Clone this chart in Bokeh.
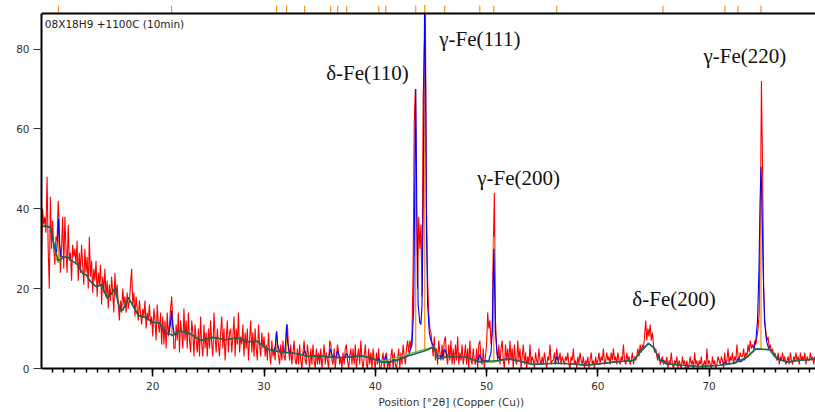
from bokeh.plotting import figure
from bokeh.models import Range1d, LinearAxis, FixedTicker, ColumnDataSource, Title
from bokeh.core.properties import value
from bokeh.embed import file_html
from bokeh.resources import INLINE

# ---------------- data ----------------
scan_start = 10.0
scan_step = 0.1
# observed counts, one row per degree 2theta (10.0 ... 79.5)
observed = [
    28, 40, 36, 38, 34, 48, 30, 20, 43, 30,
    37, 30, 26, 33, 32, 42, 36, 24, 30, 38,
    25, 38, 30, 24, 36, 27, 29, 22, 31, 28,
    30, 26, 32, 22, 29, 24, 31, 26, 21, 30,
    24, 28, 20, 33, 23, 27, 19, 25, 22, 27,
    18, 24, 21, 26, 16, 23, 19, 25, 18, 22,
    15, 21, 17, 23, 19, 14, 24, 18, 21, 16,
    12, 17, 14, 20, 16, 18, 14, 19, 15, 17,
    21, 25, 16, 19, 13, 18, 15, 12, 17, 14,
    11, 15, 13, 17, 10, 14, 12, 16, 11, 13,
    8, 15, 12, 7, 16, 11, 9, 14, 6, 13,
    6, 12, 5, 14, 8, 11, 15, 18, 12, 5,
    5, 11, 7, 14, 4, 12, 9, 5, 15, 7,
    12, 5, 14, 7, 4, 12, 9, 3, 11, 7,
    4, 10, 3, 13, 6, 3, 11, 5, 9, 3,
    10, 5, 12, 6, 3, 14, 8, 4, 10, 6,
    3, 9, 13, 5, 10, 2, 7, 12, 4, 9,
    10, 4, 8, 13, 3, 10, 6, 14, 4, 8,
    6, 11, 3, 9, 5, 10, 2, 7, 12, 4,
    9, 3, 10, 5, 2, 11, 6, 3, 9, 5,
    8, 3, 6, 2, 9, 4, 1, 7, 3, 5,
    2, 9, 6, 3, 1, 6, 2, 7, 3, 2,
    8, 11, 5, 2, 6, 1, 4, 7, 2, 1,
    5, 1, 6, 2, 0, 4, 7, 2, 1, 6,
    3, 0, 5, 1, 6, 2, 0, 5, 1, 4,
    1, 5, 0, 3, 6, 1, 4, 2, 0, 7,
    6, 2, 1, 5, 0, 3, 6, 4, 1, 3,
    0, 4, 1, 5, 6, 2, 0, 3, 5, 1,
    5, 1, 6, 0, 3, 5, 1, 7, 2, 0,
    3, 6, 1, 0, 5, 1, 4, 0, 5, 2,
    0, 4, 1, 5, 0, 0, 2, 4, 0, 3,
    4, 0, 2, 0, 3, 5, 0, 4, 1, 0,
    2, 5, 0, 4, 1, 6, 3, 1, 5, 7,
    4, 7, 5, 9, 25, 62, 70, 40, 20, 38,
    30, 36, 18, 68, 80, 88.5, 40, 22, 14, 10,
    9, 6, 3, 8, 2, 5, 1, 7, 4, 2,
    6, 2, 7, 8, 3, 1, 6, 2, 7, 1,
    5, 1, 6, 2, 8, 1, 4, 2, 6, 1,
    3, 6, 1, 5, 0, 7, 2, 1, 5, 2,
    1, 5, 0, 6, 7, 2, 1, 5, 0, 3,
    6, 14, 10, 12, 6, 9, 30, 44, 12, 5,
    2, 6, 1, 5, 7, 2, 0, 6, 2, 5,
    1, 7, 2, 5, 0, 6, 2, 1, 7, 2,
    5, 0, 3, 6, 1, 4, 0, 3, 1, 6,
    1, 3, 2, 0, 4, 2, 1, 5, 2, 1,
    3, 1, 4, 2, 0, 3, 2, 6, 1, 2,
    2, 4, 1, 5, 3, 2, 4, 1, 3, 2,
    1, 3, 2, 4, 1, 0, 3, 2, 5, 1,
    2, 0, 3, 1, 4, 2, 1, 3, 0, 2,
    1, 3, 0, 2, 4, 1, 2, 0, 3, 1,
    2, 4, 1, 3, 2, 5, 1, 2, 4, 2,
    3, 1, 4, 2, 5, 2, 3, 1, 4, 2,
    1, 3, 2, 6, 2, 1, 4, 2, 3, 1,
    2, 4, 1, 3, 2, 3, 5, 3, 6, 4,
    6, 5, 8, 12, 7, 10, 8, 11, 7, 9,
    6, 4, 5, 3, 2, 4, 1, 2, 3, 1,
    2, 1, 3, 0, 2, 1, 4, 1, 0, 2,
    1, 3, 0, 2, 1, 0, 3, 1, 2, 0,
    2, 0, 1, 3, 1, 2, 0, 4, 1, 2,
    0, 2, 1, 3, 0, 1, 2, 0, 5, 1,
    2, 1, 0, 3, 1, 2, 0, 1, 3, 2,
    1, 3, 2, 0, 4, 1, 2, 5, 1, 3,
    2, 4, 1, 3, 2, 6, 3, 2, 4, 3,
    3, 5, 2, 4, 3, 6, 4, 7, 5, 6,
    5, 7, 6, 8, 10, 14, 35, 72, 51, 20,
    12, 9, 7, 8, 5, 6, 4, 5, 3, 4,
    3, 2, 4, 1, 3, 2, 4, 2, 3, 1,
    2, 3, 1, 4, 2, 1, 3, 2, 4, 2,
    3, 1, 4, 2, 3, 2, 4, 1, 3, 2,
    2, 4, 2, 3, 1, 3,
]

# calculated profile (blue)
calc_x = [10.0, 10.5, 10.8, 11.2, 11.35, 11.45, 11.53, 11.62, 11.75, 12.0, 12.3, 12.7,
          13.2, 13.7, 14.0, 14.4, 14.9, 15.4, 15.9, 16.3, 16.6, 17.05, 17.3, 17.8, 18.2,
          18.7, 19.3, 20.0, 20.6, 21.2, 21.45, 21.58, 21.69, 21.8, 21.95, 22.4, 23.3, 24.3,
          25.4, 26.6, 27.6, 28.5, 29.4, 30.3, 30.9, 31.03, 31.13, 31.23, 31.4, 31.85, 31.94,
          32.03, 32.12, 32.3, 33.0, 33.5, 33.65, 33.8, 33.9, 35.0, 35.8, 35.99, 36.15, 36.45,
          36.62, 36.8, 37.25, 37.43, 37.6, 38.7, 39.6, 40.15, 40.31, 40.5, 40.8, 40.94, 41.1,
          42.3, 43.0, 43.3, 43.45, 43.53, 43.63, 43.73, 43.85, 44.0, 44.1, 44.2, 44.3, 44.37,
          44.44, 44.52, 44.6, 44.7, 44.85, 45.0, 45.3, 45.6, 46.0, 46.24, 46.5, 47.2, 48.2,
          49.2, 49.39, 49.6, 50.2, 50.4, 50.52, 50.58, 50.65, 50.72, 50.8, 50.95, 51.2, 52.1,
          53.0, 54.2, 55.2, 56.1, 56.31, 56.5, 57.5, 59.0, 60.2, 61.4, 62.3, 63.2, 63.8, 64.55,
          65.0, 65.6, 65.85, 66.2, 67.5, 69.2, 71.0, 71.25, 71.42, 71.6, 72.4, 72.59, 72.8,
          73.4, 74.0, 74.2, 74.35, 74.48, 74.58, 74.66, 74.74, 74.85, 74.98, 75.15, 75.35,
          75.6, 76.1, 77.0, 78.0, 78.8, 79.6]
calc_y = [35.6, 35.6, 35.3, 30.0, 29.0, 33.0, 37.5, 31.0, 28.2, 27.8, 28.0, 27.0,
          26.2, 23.8, 23.5, 21.8, 20.5, 21.0, 17.6, 18.7, 20.2, 14.5, 14.6, 17.8, 15.8,
          13.3, 12.8, 11.6, 11.4, 8.8, 8.8, 11.0, 14.5, 10.5, 8.4, 9.4, 8.8, 7.0,
          7.8, 7.2, 7.7, 6.7, 6.8, 4.9, 4.4, 6.0, 9.3, 6.0, 4.2, 4.1, 6.5,
          11.0, 6.5, 4.0, 3.7, 3.4, 4.5, 3.2, 3.0, 3.2, 2.9, 4.9, 2.9, 2.8,
          4.5, 2.7, 2.8, 3.8, 2.8, 3.2, 2.7, 2.0, 2.6, 1.6, 1.6, 3.3, 1.6,
          2.4, 3.4, 6.0, 15.0, 40.0, 70.0, 40.0, 16.0, 11.5, 11.0, 16.0, 40.0, 70.0,
          95.0, 70.0, 35.0, 16.0, 9.0, 7.0, 5.0, 3.2, 3.0, 4.8, 3.0, 2.8, 2.8,
          1.8, 3.5, 1.8, 2.0, 4.0, 10.0, 20.0, 30.0, 20.0, 9.0, 3.5, 2.2, 2.4,
          1.8, 1.0, 1.2, 1.3, 3.0, 1.3, 1.2, 0.8, 1.2, 1.6, 1.8, 2.0, 4.1, 6.3,
          5.3, 2.0, 2.0, 1.2, 0.8, 0.5, 0.8, 1.0, 1.6, 1.1, 1.4, 2.5, 1.6,
          2.8, 4.5, 7.0, 12.0, 25.0, 42.0, 50.5, 42.0, 25.0, 12.0, 7.0, 5.0,
          4.0, 2.6, 1.6, 2.0, 2.2, 2.4]

# background (dark green)
bg_x = [10.0, 10.5, 10.8, 11.2, 11.5, 12.0, 12.3, 12.7, 13.2, 13.7, 14.0, 14.4, 14.9,
        15.4, 15.9, 16.3, 16.6, 17.05, 17.3, 17.8, 18.2, 18.7, 19.3, 20.0, 20.6, 21.2,
        21.8, 22.4, 23.3, 24.3, 25.4, 26.6, 27.6, 28.5, 29.4, 30.3, 31.5, 33.0, 33.9,
        35.0, 36.3, 37.8, 38.7, 39.6, 40.5, 41.4, 42.3, 43.0, 44.4, 45.3, 45.6, 46.0,
        46.5, 47.2, 48.2, 49.4, 50.2, 51.2, 52.1, 53.0, 54.2, 55.2, 56.3, 57.5, 59.0,
        60.2, 61.4, 62.3, 63.2, 63.8, 64.55, 65.0, 65.6, 66.2, 67.5, 69.2, 71.0, 72.2,
        73.4, 74.2, 75.5, 76.1, 77.0, 78.0, 78.8, 79.6]
bg_y = [35.6, 35.6, 35.3, 30.0, 27.0, 27.8, 28.0, 27.0, 26.2, 23.8, 23.5, 21.8, 20.5,
        21.0, 17.6, 18.7, 20.2, 14.5, 14.6, 17.8, 15.8, 13.3, 12.8, 11.6, 11.4, 8.8,
        8.3, 9.4, 8.8, 7.0, 7.8, 7.2, 7.7, 6.7, 6.8, 4.9, 4.1, 3.7, 3.0,
        3.2, 2.7, 2.8, 3.2, 2.7, 1.6, 1.6, 2.4, 3.2, 4.4, 5.4, 2.5, 2.6,
        3.0, 2.8, 2.8, 1.6, 1.8, 2.0, 2.4, 1.8, 1.0, 1.2, 1.3, 1.2, 0.8,
        1.2, 1.6, 1.8, 2.0, 4.1, 6.3, 5.3, 2.0, 1.2, 0.8, 0.5, 0.8, 1.3,
        2.8, 4.9, 4.7, 2.4, 1.6, 2.0, 2.2, 2.4]

# straight background segments under the main peaks (light green)
base_seg_x = [[11.2, 11.53, 11.8], [40.4, 45.3, 45.6], [49.6, 50.65, 51.2], [73.3, 74.2, 75.4, 76.1]]
base_seg_y = [[28.0, 26.5, 28.0], [1.6, 5.5, 2.6], [1.6, 1.6, 2.0], [2.8, 5.0, 4.7, 2.4]]

# peak list (orange sticks and top markers)
peak_pos = [11.53, 21.69, 31.13, 32.03, 33.65, 35.99, 36.62, 37.43, 40.31, 40.94,
            43.63, 44.44, 46.24, 49.39, 50.65, 56.31, 65.85, 71.42, 72.59, 74.66]
peak_base = [26.5, 8.0, 4.2, 4.0, 3.2, 2.8, 2.7, 2.8, 1.6, 1.6,
             3.5, 4.4, 2.8, 1.6, 1.8, 1.3, 1.5, 0.8, 1.3, 4.8]
peak_top = [37.5, 14.0, 9.3, 11.0, 4.5, 4.9, 4.5, 3.8, 2.6, 3.3,
            70.0, 95.0, 4.8, 3.5, 33.0, 3.0, 2.0, 1.6, 2.5, 50.5]
peak_fwhm = [0.15, 0.15, 0.12, 0.12, 0.12, 0.12, 0.12, 0.12, 0.12, 0.12,
             0.2, 0.2, 0.15, 0.12, 0.2, 0.12, 0.12, 0.12, 0.12, 0.35]

# phase annotations
ann_text = ["δ-Fe(110)", "γ-Fe(111)", "γ-Fe(200)", "δ-Fe(200)", "γ-Fe(220)"]
ann_x = [35.58, 45.75, 49.16, 63.1, 69.49]
ann_y = [74.0, 82.4, 47.7, 17.5, 78.2]

sample_name = "08X18H9 +1100C (10min)"
x_title = "Position [°2θ] (Copper (Cu))"
x_major = [20, 30, 40, 50, 60, 70]
x_minor = list(range(11, 80))
y_major = [0, 20, 40, 60, 80]

X_START, X_END = 10.0, 79.56
Y_TOP = 88.9        # top border of the pattern
Y_MARK = 90.9       # top of peak markers above the border

# ---------------- figure ----------------
RED = "#ff0000"
BLUE = "#0000ff"
DKGREEN = "#1b6b48"
LTGREEN = "#6cbf4a"
ORANGE = "#f7941d"
LABEL_FONT = "DejaVu Sans"

p = figure(width=815, height=412, output_backend="svg", toolbar_location=None,
           x_range=Range1d(X_START, X_END), y_range=Range1d(0, Y_MARK),
           x_axis_location=None, y_axis_location=None)
p.min_border_left = 41
p.min_border_right = 0
p.min_border_top = 5
p.min_border_bottom = 44
p.outline_line_color = None
p.xgrid.visible = False
p.ygrid.visible = False
p.background_fill_color = "white"
p.border_fill_color = "white"

obs_x = [round(scan_start + scan_step * i, 2) for i in range(len(observed))]

half = [(b + t) / 2 for b, t in zip(peak_base, peak_top)]
stick_src = ColumnDataSource(dict(
    x=peak_pos, y0=peak_base, y1=[min(t, Y_TOP) for t in peak_top], mid=half,
    xl=[p_ - w / 2 for p_, w in zip(peak_pos, peak_fwhm)],
    xr=[p_ + w / 2 for p_, w in zip(peak_pos, peak_fwhm)],
    ytop=[Y_TOP] * len(peak_pos), ymark=[Y_MARK] * len(peak_pos),
))

p.line(obs_x, observed, line_color=RED, line_width=1.1)
p.segment(x0="x", y0="y0", x1="x", y1="y1", source=stick_src, line_color=ORANGE, line_width=1.3)
p.segment(x0="xl", y0="mid", x1="xr", y1="mid", source=stick_src, line_color=ORANGE, line_width=1.3)
p.line(calc_x, calc_y, line_color=BLUE, line_width=1.1)

p.multi_line(base_seg_x, base_seg_y, line_color=LTGREEN, line_width=1.3)
p.line(bg_x, bg_y, line_color=DKGREEN, line_width=1.6)

# white band above the pattern border (hides peaks over the top), border and markers
p.quad(left=[X_START], right=[X_END], bottom=[Y_TOP], top=[Y_MARK], fill_color="white",
       line_color=None)
p.segment(x0="x", y0="ytop", x1="x", y1="ymark", source=stick_src, line_color=ORANGE,
          line_width=1.2)
p.segment(x0=[X_START], y0=[Y_TOP], x1=[X_END], y1=[Y_TOP], line_color="black", line_width=2)

ann_src = ColumnDataSource(dict(x=ann_x, y=ann_y, t=ann_text))
p.text(x="x", y="y", text="t", source=ann_src, text_font=value("Liberation Serif"),
       text_font_size="21px", text_color="#111111", text_align="left",
       text_baseline="alphabetic")

p.text(x=[10.3], y=[87.8], text=[sample_name], text_font=value(LABEL_FONT),
       text_font_size="10.5px", text_color="#222222", text_align="left",
       text_baseline="top")

# axes
xaxis = LinearAxis(ticker=FixedTicker(ticks=x_major, minor_ticks=x_minor))
xaxis.axis_line_color = "black"
xaxis.axis_line_width = 2
xaxis.major_tick_in = 0
xaxis.major_tick_out = 8
xaxis.minor_tick_in = 0
xaxis.minor_tick_out = 4
xaxis.major_tick_line_color = "black"
xaxis.minor_tick_line_color = "black"
xaxis.major_tick_line_width = 1.5
xaxis.minor_tick_line_width = 1.5
xaxis.major_label_standoff = 5
xaxis.major_label_text_font = LABEL_FONT
xaxis.major_label_text_font_size = "10.5px"
xaxis.major_label_text_color = "#333333"
p.add_layout(xaxis, "below")

yaxis = LinearAxis(ticker=FixedTicker(ticks=y_major, minor_ticks=[]))
yaxis.bounds = (0, Y_TOP)
yaxis.axis_line_color = "black"
yaxis.axis_line_width = 2
yaxis.major_tick_in = 0
yaxis.major_tick_out = 8
yaxis.minor_tick_line_color = None
yaxis.major_tick_line_color = "#333333"
yaxis.major_label_standoff = 4
yaxis.major_label_text_font = LABEL_FONT
yaxis.major_label_text_font_size = "10.5px"
yaxis.major_label_text_color = "#333333"
p.add_layout(yaxis, "left")

xt = Title(text=x_title, align="left", offset=337, text_font=LABEL_FONT,
           text_font_size="10.5px", text_font_style="normal", text_color="#333333",
           standoff=2)
p.add_layout(xt, "below")

open("out.html", "w").write(file_html(p, INLINE))
